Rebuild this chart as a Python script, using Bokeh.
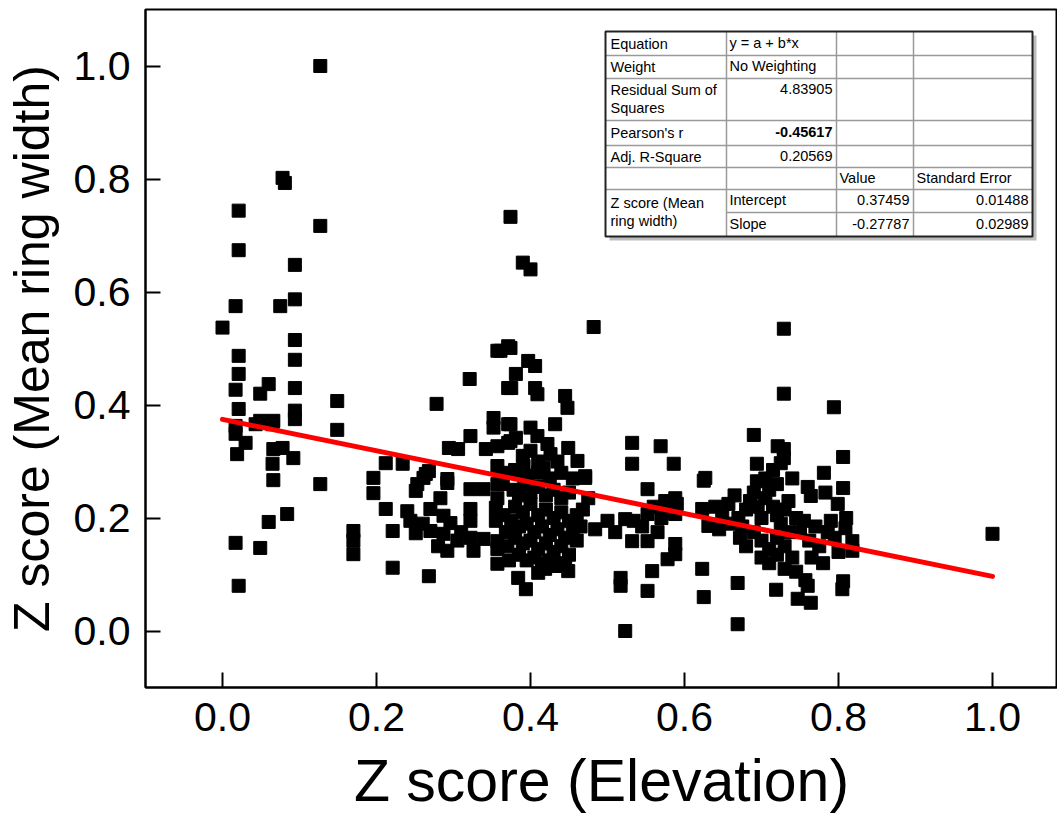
from bokeh.plotting import figure
from bokeh.models import Range1d, FixedTicker, PrintfTickFormatter
from bokeh.core.properties import value
from bokeh.embed import file_html
from bokeh.resources import INLINE

# ---------------- data ----------------
elev_a = [0.000, 0.021, 0.021, 0.017, 0.021, 0.021, 0.017, 0.021, 0.017, 0.017, 0.019, 0.030, 0.017, 0.021,
          0.049, 0.060, 0.049, 0.066, 0.043, 0.065, 0.066, 0.078, 0.065, 0.066, 0.060, 0.049, 0.084, 0.078,
          0.081, 0.075, 0.094, 0.094, 0.094, 0.094, 0.094, 0.094, 0.094, 0.092, 0.127, 0.127, 0.127, 0.149, 0.149]
ring_a = [0.537, 0.744, 0.674, 0.575, 0.487, 0.455, 0.427, 0.393, 0.363, 0.349, 0.313, 0.333, 0.156, 0.080,
          0.420, 0.437, 0.372, 0.372, 0.366, 0.366, 0.322, 0.324, 0.296, 0.267, 0.193, 0.147, 0.207, 0.802,
          0.793, 0.575, 0.648, 0.587, 0.515, 0.480, 0.430, 0.390, 0.375, 0.306, 1.000, 0.717, 0.260, 0.407, 0.356]

elev_b = [0.170, 0.170, 0.170, 0.196, 0.196, 0.212, 0.212, 0.221, 0.221, 0.234, 0.240, 0.244, 0.251, 0.251,
          0.253, 0.261, 0.264, 0.268, 0.270, 0.270, 0.268, 0.278, 0.287, 0.296, 0.287, 0.292, 0.292, 0.292,
          0.294, 0.306, 0.321, 0.322, 0.322, 0.322, 0.322, 0.322, 0.326, 0.339, 0.339, 0.342, 0.283, 0.305,
          0.310, 0.260, 0.280]
ring_b = [0.177, 0.160, 0.136, 0.271, 0.244, 0.297, 0.216, 0.177, 0.112, 0.296, 0.212, 0.195, 0.173, 0.248,
          0.260, 0.271, 0.278, 0.283, 0.216, 0.177, 0.097, 0.402, 0.204, 0.191, 0.172, 0.262, 0.269, 0.142,
          0.324, 0.322, 0.446, 0.345, 0.251, 0.216, 0.195, 0.165, 0.142, 0.251, 0.163, 0.322, 0.235, 0.160,
          0.175, 0.190, 0.150]

elev_c = [0.352, 0.352, 0.357, 0.361, 0.371, 0.374, 0.371, 0.375, 0.371, 0.374, 0.371, 0.374, 0.381, 0.357,
          0.357, 0.365, 0.357, 0.364, 0.357, 0.355, 0.355, 0.357, 0.357, 0.357, 0.381, 0.397, 0.406, 0.406,
          0.409, 0.400, 0.409, 0.432, 0.445, 0.448, 0.400, 0.422, 0.426, 0.449, 0.461, 0.391, 0.417, 0.471,
          0.482, 0.374, 0.390, 0.400, 0.384, 0.394, 0.410, 0.419, 0.449, 0.471,
          0.378, 0.385, 0.392, 0.400, 0.410, 0.420, 0.430, 0.440, 0.450, 0.380, 0.390, 0.400, 0.410, 0.420,
          0.430, 0.440, 0.450, 0.460, 0.375, 0.385, 0.395, 0.405, 0.415, 0.425, 0.435, 0.445, 0.455, 0.380,
          0.390, 0.400, 0.410, 0.420, 0.430, 0.440, 0.450, 0.385, 0.395, 0.405, 0.415, 0.425, 0.435, 0.445,
          0.365, 0.368, 0.370, 0.372, 0.460, 0.465, 0.468, 0.475, 0.455, 0.440, 0.425, 0.410, 0.395, 0.380,
          0.390, 0.410, 0.435]
ring_c = [0.377, 0.360, 0.496, 0.496, 0.504, 0.501, 0.430, 0.430, 0.366, 0.366, 0.333, 0.336, 0.342, 0.327,
          0.292, 0.280, 0.260, 0.260, 0.235, 0.218, 0.195, 0.159, 0.145, 0.119, 0.455, 0.478, 0.469, 0.430,
          0.419, 0.360, 0.345, 0.366, 0.416, 0.395, 0.319, 0.331, 0.313, 0.324, 0.301, 0.292, 0.289, 0.274,
          0.538, 0.733, 0.652, 0.640, 0.094, 0.074, 0.103, 0.110, 0.106, 0.271,
          0.250, 0.240, 0.260, 0.245, 0.255, 0.240, 0.250, 0.235, 0.245, 0.220, 0.210, 0.225, 0.205, 0.215,
          0.200, 0.210, 0.195, 0.205, 0.195, 0.185, 0.190, 0.175, 0.185, 0.170, 0.180, 0.165, 0.175, 0.165,
          0.155, 0.160, 0.145, 0.155, 0.140, 0.150, 0.135, 0.135, 0.125, 0.130, 0.120, 0.125, 0.115, 0.120,
          0.205, 0.175, 0.150, 0.125, 0.160, 0.185, 0.215, 0.235, 0.270, 0.280, 0.270, 0.280, 0.275, 0.285,
          0.310, 0.300, 0.300]

elev_d = [0.500, 0.484, 0.523, 0.534, 0.532, 0.552, 0.552, 0.552, 0.532, 0.569, 0.532, 0.586, 0.578, 0.558,
          0.517, 0.517, 0.552, 0.523, 0.565, 0.570, 0.580, 0.590, 0.588, 0.588, 0.588, 0.588, 0.575, 0.560,
          0.545, 0.510]
ring_d = [0.195, 0.180, 0.198, 0.195, 0.159, 0.207, 0.159, 0.251, 0.333, 0.327, 0.296, 0.296, 0.127, 0.106,
          0.094, 0.080, 0.071, 0.000, 0.175, 0.200, 0.210, 0.225, 0.235, 0.207, 0.154, 0.136, 0.230, 0.220,
          0.185, 0.175]

elev_e = [0.623, 0.625, 0.627, 0.631, 0.623, 0.625, 0.649, 0.657, 0.669, 0.669, 0.690, 0.694, 0.694, 0.721,
          0.729, 0.729, 0.725, 0.729, 0.729, 0.794, 0.806, 0.781, 0.806, 0.764, 0.799, 0.719, 0.747, 0.764,
          0.760, 0.805, 0.806, 0.809, 0.818, 0.818, 1.000,
          0.670, 0.675, 0.680, 0.685, 0.690, 0.695, 0.700, 0.705, 0.710, 0.715, 0.720, 0.725, 0.730, 0.735,
          0.672, 0.680, 0.690, 0.700, 0.710, 0.720, 0.730, 0.735, 0.700, 0.710, 0.720, 0.730, 0.740, 0.705,
          0.715, 0.720, 0.745, 0.750, 0.755, 0.762, 0.770, 0.775, 0.765, 0.780, 0.786, 0.790, 0.795, 0.800,
          0.810, 0.783, 0.760, 0.740, 0.745, 0.757, 0.660, 0.665, 0.645, 0.640]
ring_e = [0.216, 0.266, 0.271, 0.186, 0.110, 0.060, 0.207, 0.225, 0.085, 0.012, 0.347, 0.296, 0.265, 0.327,
          0.322, 0.306, 0.297, 0.535, 0.420, 0.396, 0.308, 0.280, 0.253, 0.239, 0.225, 0.073, 0.057, 0.050,
          0.080, 0.074, 0.088, 0.182, 0.159, 0.142, 0.172,
          0.200, 0.185, 0.215, 0.230, 0.245, 0.220, 0.200, 0.235, 0.250, 0.220, 0.205, 0.190, 0.215, 0.230,
          0.165, 0.150, 0.175, 0.160, 0.145, 0.165, 0.150, 0.175, 0.130, 0.120, 0.135, 0.110, 0.130, 0.270,
          0.285, 0.260, 0.200, 0.175, 0.195, 0.160, 0.185, 0.150, 0.130, 0.120, 0.175, 0.195, 0.165, 0.140,
          0.200, 0.245, 0.255, 0.270, 0.105, 0.090, 0.190, 0.240, 0.180, 0.220]

elevation = elev_a + elev_b + elev_c + elev_d + elev_e
ring_width = ring_a + ring_b + ring_c + ring_d + ring_e

intercept = 0.37459
slope = -0.27787
fit_x = [0.0, 1.0]
fit_y = [intercept + slope * v for v in fit_x]

x_ticks = [0.0, 0.2, 0.4, 0.6, 0.8, 1.0]
y_ticks = [0.0, 0.2, 0.4, 0.6, 0.8, 1.0]

table_rows = [
    ["Equation", "y = a + b*x", "", ""],
    ["Weight", "No Weighting", "", ""],
    ["Residual Sum of|Squares", "4.83905", "", ""],
    ["Pearson's r", "-0.45617", "", ""],
    ["Adj. R-Square", "0.20569", "", ""],
    ["", "", "Value", "Standard Error"],
    ["Z score (Mean", "Intercept", "0.37459", "0.01488"],
    ["ring width)", "Slope", "-0.27787", "0.02989"],
]

# ---------------- layout ----------------
FL, FT, FW, FH = 145, 9, 912, 678
X0, X1 = -0.1, 1.0844
Y0, Y1 = -0.1, 1.1


def dx(px):
    return X0 + (px - FL) / FW * (X1 - X0)


def dy(py):
    return Y1 - (py - FT) / FH * (Y1 - Y0)


FONT = "Liberation Sans"

p = figure(frame_width=FW, frame_height=FH, min_border_left=FL, min_border_right=0,
           min_border_top=FT, min_border_bottom=826 - FT - FH,
           x_range=Range1d(X0, X1), y_range=Range1d(Y0, Y1),
           output_backend="svg", toolbar_location=None, tools="")
p.background_fill_color = "white"
p.border_fill_color = "white"
p.outline_line_color = "black"
p.outline_line_width = 2
p.grid.visible = False

for ax, ticks in ((p.xaxis[0], x_ticks), (p.yaxis[0], y_ticks)):
    ax.ticker = FixedTicker(ticks=ticks)
    ax.formatter = PrintfTickFormatter(format="%.1f")
    ax.axis_line_width = 2
    ax.axis_line_color = "black"
    ax.major_tick_in = 15
    ax.major_tick_out = 0
    ax.major_tick_line_width = 2
    ax.major_tick_line_color = "black"
    ax.minor_tick_line_color = None
    ax.major_label_text_font = FONT
    ax.major_label_text_font_size = "41px"
    ax.major_label_text_color = "black"
    ax.axis_label_text_font = FONT
    ax.axis_label_text_font_style = "normal"
    ax.axis_label_text_color = "black"

p.xaxis.axis_label = "Z score (Elevation)"
p.xaxis.axis_label_text_font_size = "59px"
p.xaxis.major_label_standoff = 15
p.xaxis.axis_label_standoff = 14
p.yaxis.axis_label = "Z score (Mean ring width)"
p.yaxis.axis_label_text_font_size = "50px"
p.yaxis.major_label_standoff = 15
p.yaxis.axis_label_standoff = 11

# scatter + fit
p.scatter(elevation, ring_width, marker="square", size=13, fill_color="black", line_color="black")
p.line(fit_x, fit_y, line_color="#ff0000", line_width=5, line_cap="round")

# ---------------- statistics table ----------------
cols = [605, 726, 836, 913, 1032]
rows = [31, 55, 78, 120, 145, 167, 189, 212, 236]
# shadow
p.quad(left=[dx(cols[0] + 4)], right=[dx(cols[-1] + 4)], top=[dy(rows[0] + 4)], bottom=[dy(rows[-1] + 4)],
       fill_color="#bdbdbd", line_color=None)
p.quad(left=[dx(cols[0])], right=[dx(cols[-1])], top=[dy(rows[0])], bottom=[dy(rows[-1])],
       fill_color="white", line_color=None)
# inner lines
sx0, sy0, sx1, sy1 = [], [], [], []
for r in rows[1:-1]:
    start = cols[1] if r == rows[7] else cols[0]
    sx0.append(dx(start)); sx1.append(dx(cols[-1])); sy0.append(dy(r)); sy1.append(dy(r))
for c in cols[1:-1]:
    sx0.append(dx(c)); sx1.append(dx(c)); sy0.append(dy(rows[0])); sy1.append(dy(rows[-1]))
p.segment(sx0, sy0, sx1, sy1, line_color="#9a9a9a", line_width=1.5)
p.quad(left=[dx(cols[0])], right=[dx(cols[-1])], top=[dy(rows[0])], bottom=[dy(rows[-1])],
       fill_color=None, line_color="#222222", line_width=2)

lt_x, lt_y, lt_t = [], [], []
rt_x, rt_y, rt_t = [], [], []
bold_x, bold_y, bold_t = [], [], []
for i, row in enumerate(table_rows):
    top, bot = rows[i], rows[i + 1]
    cy = (top + bot) / 2
    first = row[0]
    if "|" in first:
        a, b = first.split("|")
        lt_x += [dx(cols[0] + 5), dx(cols[0] + 5)]; lt_y += [dy(top + 11), dy(top + 29)]; lt_t += [a, b]
    elif first:
        yy = cy
        if i == 6:
            yy = bot - 10
        if i == 7:
            yy = top + 8
        lt_x.append(dx(cols[0] + 5)); lt_y.append(dy(yy)); lt_t.append(first)
    for j in (1, 2, 3):
        t = row[j]
        if not t:
            continue
        numeric = t[0] in "-0123456789"
        yy = top + 10 if i == 2 else cy - 1
        if numeric:
            if i == 3:
                bold_x.append(dx(cols[j + 1] - 4)); bold_y.append(dy(yy)); bold_t.append(t)
            else:
                rt_x.append(dx(cols[j + 1] - 4)); rt_y.append(dy(yy)); rt_t.append(t)
        else:
            lt_x.append(dx(cols[j] + 3)); lt_y.append(dy(yy)); lt_t.append(t)

p.text(lt_x, lt_y, text=lt_t, text_font=value(FONT), text_font_size="14.5px", text_color="black",
       text_align="left", text_baseline="middle")
p.text(rt_x, rt_y, text=rt_t, text_font=value(FONT), text_font_size="14.5px", text_color="black",
       text_align="right", text_baseline="middle")
p.text(bold_x, bold_y, text=bold_t, text_font=value(FONT), text_font_size="14.5px", text_color="black",
       text_align="right", text_baseline="middle", text_font_style="bold")

open("out.html", "w").write(file_html(p, INLINE))
